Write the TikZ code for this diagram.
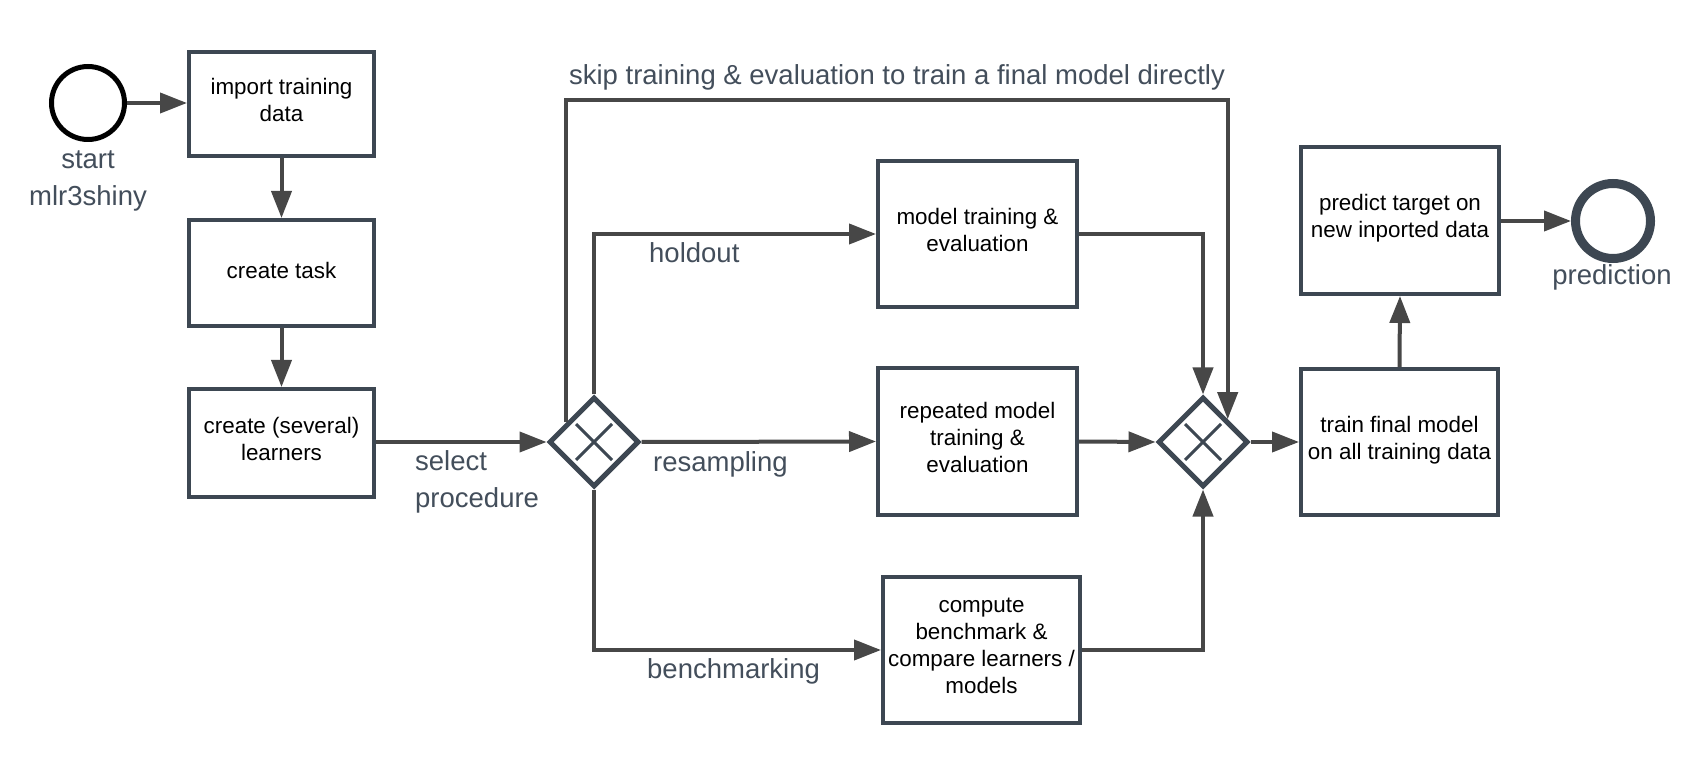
\documentclass[tikz,border=0pt]{standalone}
\usepackage{fontspec}
\setmainfont{Liberation Sans}
\usetikzlibrary{arrows.meta,shapes.geometric,calc}
\definecolor{boxline}{HTML}{3D4752}
\definecolor{arrowc}{HTML}{474747}
\definecolor{labelc}{HTML}{434E5B}
\newcommand{\boxfnt}{\fontsize{22.4}{27}\selectfont}
\newcommand{\labfnt}{\fontsize{27.5}{37}\selectfont}
\begin{document}
\begin{tikzpicture}[x=1pt,y=-1pt,
  taskbox/.style={draw=boxline, line width=4pt, fill=white, inner sep=0pt,
    align=center, font=\boxfnt, text=black, text depth=9pt},
  gateway/.style={diamond, aspect=1, draw=boxline, line width=5pt, fill=white,
    minimum width=90pt, minimum height=90pt, inner sep=0pt},
  crossline/.style={draw=boxline, line width=3pt},
  conn/.style={draw=arrowc, line width=4pt, -{Triangle[length=27pt,width=20pt]}},
  lab/.style={text=labelc, font=\labfnt, inner sep=0pt}
]
\useasboundingbox[fill=white] (0,0) rectangle (1700,775);

% events
\node[circle, draw=black, line width=5pt, minimum size=73pt, inner sep=0pt] (start) at (88,103) {};
\node[circle, draw=boxline, line width=9pt, minimum size=75pt, inner sep=0pt] (end) at (1613,221) {};
\node[lab, anchor=base] (startlab1) at (88,169) {start};
\node[lab, anchor=base] (startlab2) at (88,206) {mlr3shiny};
\node[lab, anchor=base] (endlab) at (1612,285) {prediction};

% tasks
\node[taskbox, minimum width=185pt, minimum height=104pt] (import) at (281.5,104) {import training\\data};
\node[taskbox, minimum width=185pt, minimum height=106pt, text depth=5pt] (task) at (281.5,273) {create task};
\node[taskbox, minimum width=185pt, minimum height=108pt] (learn) at (281.5,443) {create (several)\\learners};
\node[taskbox, minimum width=199pt, minimum height=146pt] (mt) at (977.5,234) {model training \&\\evaluation};
\node[taskbox, minimum width=199pt, minimum height=147pt] (rep) at (977.5,441.5) {repeated model\\training \&\\evaluation};
\node[taskbox, minimum width=197pt, minimum height=146pt] (bm) at (981.5,650) {compute\\benchmark \&\\compare learners /\\models};
\node[taskbox, minimum width=197pt, minimum height=146pt] (train) at (1399.5,442) {train final model\\on all training data};
\node[taskbox, minimum width=198pt, minimum height=147pt] (predict) at (1400,220.5) {predict target on\\new inported data};

% gateways
\node[gateway] (g1) at (594,442) {};
\node[gateway] (g2) at (1203,442) {};
\foreach \g in {g1,g2}{
  \draw[crossline] ($(\g)+(-18,-18)$) -- ($(\g)+(18,18)$);
  \draw[crossline] ($(\g)+(-18,18)$) -- ($(\g)+(18,-18)$);
}

% connectors
\draw[conn] (start.east) -- (start.east -| import.west);
\draw[conn] (import.south) -- (task.north);
\draw[conn] (task.south) -- (learn.north);
\draw[conn] (learn.east |- g1.west) -- (g1.west);
\draw[conn] (g1.north) |- (mt.west);
\draw[conn] (g1.east) -- (rep.west);
\draw[conn] (g1.south) |- (bm.west);
\draw[conn] (mt.east) -| (g2.north);
\draw[conn] (rep.east) -- (g2.west);
\draw[conn] (bm.east) -| (g2.south);
\draw[conn] (g2.east) -- (train.west |- g2.east);
\draw[conn] (train.north) -- (predict.south);
\draw[conn] (predict.east |- end.west) -- (end.west);

\coordinate (s1) at ($(g1.west)!0.42!(g1.north)$);
\coordinate (s2) at ($(g2.north)!0.52!(g2.east)$);
\draw[conn] (s1) -- (s1 |- 0,100) -- (s2 |- 0,100) -- (s2);

% labels
\node[lab, anchor=base] (skiplab) at (897,85) {skip training \& evaluation to train a final model directly};
\node[lab, anchor=base west] (hold) at (649,263) {holdout};
\node[lab, anchor=base west] (resamp) at (653,471) {resampling};
\node[lab, anchor=base west] (bench) at (647,678) {benchmarking};
\node[lab, anchor=base west] (sel1) at (415,470) {select};
\node[lab, anchor=base west] (sel2) at (415,507) {procedure};
\end{tikzpicture}
\end{document}
